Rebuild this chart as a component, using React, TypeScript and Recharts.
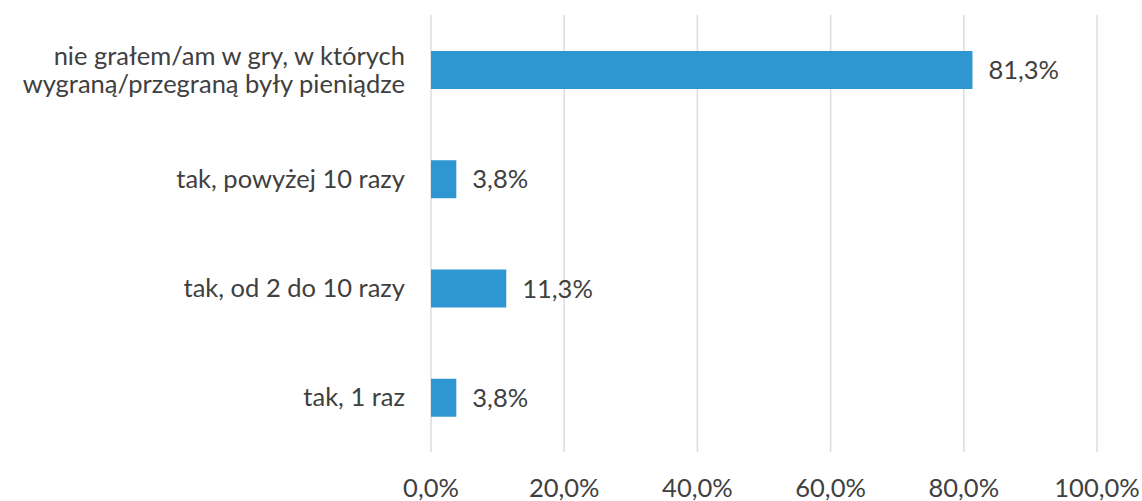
import React from 'react';
import { BarChart, Bar, XAxis, YAxis, CartesianGrid, LabelList } from 'recharts';

const categories = [
  'nie grałem/am w gry, w których|wygraną/przegraną były pieniądze',
  'tak, powyżej 10 razy',
  'tak, od 2 do 10 razy',
  'tak, 1 raz',
];
const values = [81.3, 3.8, 11.3, 3.8];
const xTicks = [0, 20, 40, 60, 80, 100];

const data = categories.map((name, i) => ({ name, value: values[i] }));

const FONT = 'Lato, "Open Sans", sans-serif';
const TEXT = '#404040';
const FS = 25.5;

const pct = (v: number) => `${v.toFixed(1).replace('.', ',')}%`;

const CategoryTick = (props: any) => {
  const { x, y, payload } = props;
  const lines: string[] = String(payload.value).split('|');
  const lh = 28;
  const start = -((lines.length - 1) * lh) / 2;
  return (
    <text x={x - 18} y={y} textAnchor="end" fill={TEXT} fontSize={FS} fontFamily={FONT}>
      {lines.map((l, i) => (
        <tspan key={i} x={x - 18} dy={i === 0 ? start + 9 : lh}>
          {l}
        </tspan>
      ))}
    </text>
  );
};

const ValueTick = (props: any) => {
  const { x, payload } = props;
  return (
    <text x={x} y={488} dy="0.35em" textAnchor="middle" fill={TEXT} fontSize={FS} fontFamily={FONT}>
      {pct(payload.value)}
    </text>
  );
};

export default function App() {
  return (
    <div style={{ position: 'absolute', left: 0, top: 0, background: '#fff' }}>
      <BarChart
        width={1142}
        height={501}
        data={data}
        layout="vertical"
        margin={{ top: 15, right: 45, bottom: 0, left: 0 }}
        barSize={38}
      >
        <CartesianGrid horizontal={false} stroke="#dcdcdc" strokeWidth={1.5} />
        <XAxis
          type="number"
          domain={[0, 100]}
          ticks={xTicks}
          axisLine={false}
          tickLine={false}
          height={49}
          tick={<ValueTick />}
          interval={0}
        />
        <YAxis
          type="category"
          dataKey="name"
          width={431}
          axisLine={false}
          tickLine={false}
          tick={<CategoryTick />}
          interval={0}
        />
        <Bar dataKey="value" fill="#2E97D1" isAnimationActive={false}>
          <LabelList
            dataKey="value"
            position="right"
            offset={16}
            formatter={(v: any) => pct(Number(v))}
            style={{ fill: TEXT, fontSize: FS, fontFamily: FONT }}
          />
        </Bar>
      </BarChart>
    </div>
  );
}
